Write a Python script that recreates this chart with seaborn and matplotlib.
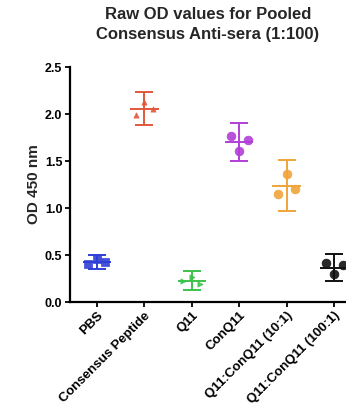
import matplotlib
matplotlib.use("Agg")
import matplotlib.pyplot as plt
import numpy as np
import pandas as pd
import seaborn as sns

# Raw OD 450 values, three replicates per group (left, centre, right as drawn)
groups = ['PBS', 'Consensus Peptide', 'Q11', 'ConQ11',
          'Q11:ConQ11 (10:1)', 'Q11:ConQ11 (100:1)']
rep_left = [0.40, 1.99, 0.22, 1.77, 1.15, 0.41]
rep_mid = [0.46, 2.13, 0.27, 1.61, 1.36, 0.30]
rep_right = [0.43, 2.05, 0.19, 1.72, 1.20, 0.39]
colors = ['#2f3fd6', '#e2583c', '#3cc24c', '#b13fd6', '#f0a43a', '#111111']
markers = ['s', '^', '>', 'o', 'o', 'o']
marker_sizes = [32, 14, 14, 40, 40, 40]

sns.set_style("ticks")
plt.rcParams['font.family'] = ['Liberation Sans', 'DejaVu Sans']
plt.rcParams['font.weight'] = 'bold'

# long-form table
rows = []
spread = [-0.18, 0.0, 0.18]
for i, g in enumerate(groups):
    for j, v in enumerate([rep_left[i], rep_mid[i], rep_right[i]]):
        rows.append({'group': g, 'gi': i, 'x': i + spread[j], 'od': v})
df = pd.DataFrame(rows)

# mean with 95% CI (t, n=3)
stats = df.groupby('gi')['od'].agg(['mean', 'std', 'count'])
ci = 4.303 * stats['std'] / np.sqrt(stats['count'])

fig = plt.figure(figsize=(3.46, 4.18), dpi=100)
ax = fig.add_axes([0.202, 0.2775, 0.798, 0.5622])

for i, g in enumerate(groups):
    sub = df[df.gi == i]
    sns.scatterplot(data=sub, x='x', y='od', color=colors[i], marker=markers[i],
                    s=marker_sizes[i], edgecolor=colors[i], linewidth=0.5,
                    alpha=0.9, ax=ax, legend=False, zorder=3)
    ax.errorbar(i, stats['mean'][i], yerr=ci[i], fmt='none', ecolor=colors[i],
                elinewidth=1.4, capsize=6.5, capthick=1.4, zorder=2)
    ax.hlines(stats['mean'][i], i - 0.3, i + 0.3, color=colors[i], lw=1.4, zorder=2)

ax.set_xlim(-0.57, 5.25)
ax.set_ylim(0, 2.5)
ax.set_yticks([0.0, 0.5, 1.0, 1.5, 2.0, 2.5])
ax.set_yticklabels(['0.0', '0.5', '1.0', '1.5', '2.0', '2.5'], fontsize=9, fontweight='bold')
ax.set_xticks(range(len(groups)))
ax.set_xticklabels(groups, rotation=45, ha='right', rotation_mode='anchor',
                   fontsize=9.5, fontweight='bold')
ax.set_xlabel('')
ax.set_ylabel('OD 450 nm', fontsize=11, fontweight='bold', labelpad=3)
ax.set_title('Raw OD values for Pooled\nConsensus Anti-sera (1:100)',
             fontsize=12, fontweight='bold', pad=20, linespacing=1.4)

sns.despine(ax=ax)
for s in ['left', 'bottom']:
    ax.spines[s].set_linewidth(1.6)
    ax.spines[s].set_color('black')
ax.tick_params(axis='both', width=1.3, length=3.5, color='black', labelcolor='black', pad=2)

fig.savefig('out.png', dpi=100)
